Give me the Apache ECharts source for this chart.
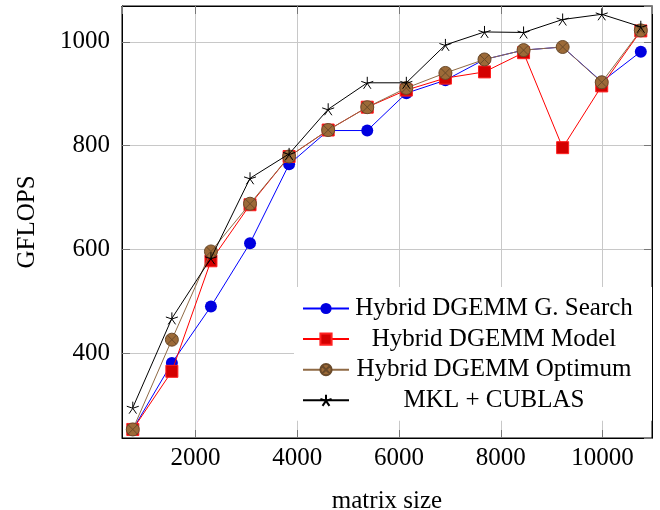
<!DOCTYPE html>
<html>
<head>
<meta charset="utf-8">
<script src="https://cdn.jsdelivr.net/npm/echarts@6/dist/echarts.min.js"></script>
<style>html,body{margin:0;padding:0;background:#fff}#c{width:660px;height:510px}</style>
</head>
<body>
<div id="c"></div>
<script>
const sizes = [768,1536,2304,3072,3840,4608,5376,6144,6912,7680,8448,9216,9984,10752];
const gsearch = [253,381,490,612,764,829,829,901,926,966,984,990,923,981];
const model = [253,365,578,686,779,830,874,907,930,942,979,796,915,1021];
const optimum = [253,426,596,688,779,830,874,911,940,966,984,990,922,1022];
const mkl = [295,467,583,737,784,870,921,921,994,1019,1018,1043,1053,1029];
const seriesNames = ['Hybrid DGEMM G. Search','Hybrid DGEMM Model','Hybrid DGEMM Optimum','MKL + CUBLAS'];

const FONT = 'Liberation Serif';
const FS = 25;
const pair = arr => sizes.map((x,i)=>[x,arr[i]]);

const otimes = 'path://M10,0A10,10,0,1,1,10,20A10,10,0,1,1,10,0ZM2.93,2.93L17.07,17.07M17.07,2.93L2.93,17.07';
const star = 'path://M10,10L10,0M10,10L19.51,6.91M10,10L15.88,18.09M10,10L4.12,18.09M10,10L0.49,6.91';

const tickStyle = {show:true, inside:true, length:8, lineStyle:{color:'#777', width:1}};
const plain = v => String(v);
const chart = echarts.init(document.getElementById('c'), null, {renderer:'canvas'});
chart.setOption({
  animation:false,
  backgroundColor:'#fff',
  textStyle:{fontFamily:FONT},
  grid:{left:122, right:8, top:6, bottom:72, outerBoundsMode:'none', containLabel:false,
        show:true, borderColor:'#000', borderWidth:1, backgroundColor:'transparent'},
  legend:{
    orient:'vertical', left:294, top:287,
    padding:[9,18,8,8],
    backgroundColor:'#fff', borderWidth:0,
    itemWidth:46, itemHeight:14, itemGap:5.6, itemTextGap:5,
    data:seriesNames,
    formatter: n => '{a|' + n + '}',
    textStyle:{fontFamily:FONT, fontSize:FS, color:'#000',
      rich:{a:{fontFamily:FONT, fontSize:FS, width:280, align:'center', height:24, lineHeight:24}}}
  },
  xAxis:[{
    type:'value', min:556, max:10972, splitNumber:5, position:'bottom',
    name:'matrix size', nameLocation:'middle', nameGap:51,
    nameTextStyle:{fontFamily:FONT, fontSize:FS, color:'#000'},
    axisLine:{show:true, lineStyle:{color:'#000', width:1}},
    axisTick:tickStyle,
    axisLabel:{fontFamily:FONT, fontSize:FS, color:'#000', margin:8, formatter:plain, showMinLabel:false, showMaxLabel:false},
    splitLine:{show:true, lineStyle:{color:'#c8c8c8', width:1}}
  },{
    type:'value', min:556, max:10972, splitNumber:5, position:'top',
    axisLine:{show:true, lineStyle:{color:'#000', width:1}},
    axisTick:tickStyle, axisLabel:{show:false}, splitLine:{show:false}
  }],
  yAxis:[{
    type:'value', min:236.5, max:1069, splitNumber:4, position:'left',
    name:'GFLOPS', nameLocation:'middle', nameGap:82, nameRotate:90,
    nameTextStyle:{fontFamily:FONT, fontSize:FS, color:'#000'},
    axisLine:{show:true, lineStyle:{color:'#000', width:1}},
    axisTick:tickStyle,
    axisLabel:{fontFamily:FONT, fontSize:FS, color:'#000', margin:12, formatter:plain, showMinLabel:false, showMaxLabel:false},
    splitLine:{show:true, lineStyle:{color:'#c8c8c8', width:1}}
  },{
    type:'value', min:236.5, max:1069, splitNumber:4, position:'right',
    axisLine:{show:true, lineStyle:{color:'#000', width:1}},
    axisTick:tickStyle, axisLabel:{show:false}, splitLine:{show:false}
  }],
  series:[
    {name:seriesNames[0], type:'line', data:pair(gsearch), symbol:'circle', symbolSize:12,
     lineStyle:{color:'#0000ff', width:1}, itemStyle:{color:'#0000e0', borderWidth:0}, z:2},
    {name:seriesNames[1], type:'line', data:pair(model), symbol:'rect', symbolSize:12,
     lineStyle:{color:'#ff0000', width:1}, itemStyle:{color:'#d40000', borderColor:'#ff2020', borderWidth:1}, z:3},
    {name:seriesNames[2], type:'line', data:pair(optimum), symbol:otimes, symbolSize:13,
     lineStyle:{color:'#8f6a45', width:1}, itemStyle:{color:'#9c6a38', borderColor:'#6a4a2a', borderWidth:1}, z:4},
    {name:seriesNames[3], type:'line', data:pair(mkl), symbol:star, symbolSize:12,
     lineStyle:{color:'#000', width:1}, itemStyle:{color:'none', borderColor:'#000', borderWidth:1}, z:5}
  ]
});
</script>
</body>
</html>
